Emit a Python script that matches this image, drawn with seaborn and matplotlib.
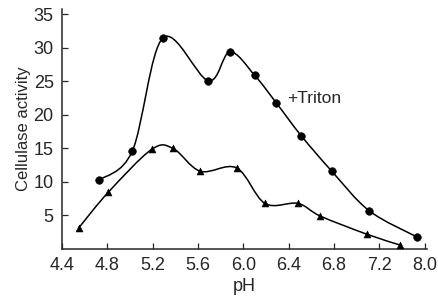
import numpy as np
import pandas as pd
import matplotlib
matplotlib.use("Agg")
import matplotlib.pyplot as plt
from matplotlib.path import Path
from matplotlib.patches import PathPatch
import seaborn as sns

# data
ph_triton = [4.73, 5.02, 5.29, 5.69, 5.88, 6.10, 6.29, 6.51, 6.78, 7.11, 7.53]
act_triton = [10.3, 14.6, 31.5, 25.1, 29.4, 25.9, 21.8, 16.9, 11.6, 5.7, 1.8]

ph_plain = [4.55, 4.81, 5.19, 5.38, 5.62, 5.94, 6.19, 6.48, 6.68, 7.09, 7.38]
act_plain = [3.2, 8.5, 14.85, 15.0, 11.6, 12.1, 6.8, 6.8, 4.9, 2.2, 0.6]

xtick_pos = [4.4, 4.8, 5.2, 5.6, 6.0, 6.4, 6.8, 7.2, 7.6]
xtick_lab = ["4.4", "4.8", "5.2", "5.6", "6.0", "6.4", "6.8", "7.2", "8.0"]
yticks = [5, 10, 15, 20, 25, 30, 35]

df_t = pd.DataFrame({"pH": ph_triton, "act": act_triton})
df_p = pd.DataFrame({"pH": ph_plain, "act": act_plain})


def smooth_path(x, y):
    # catmull-rom through the points, as cubic bezier segments
    p = np.column_stack([x, y])
    ext = np.vstack([p[0], p, p[-1]])
    verts = [p[0]]
    codes = [Path.MOVETO]
    for i in range(1, len(ext) - 2):
        c1 = ext[i] + (ext[i + 1] - ext[i - 1]) / 6
        c2 = ext[i + 1] - (ext[i + 2] - ext[i]) / 6
        verts += [c1, c2, ext[i + 1]]
        codes += [Path.CURVE4] * 3
    return Path(verts, codes)


sns.set_style("ticks")
plt.rcParams["font.family"] = ["Liberation Sans", "DejaVu Sans"]

fig, ax = plt.subplots(figsize=(4.38, 3.02), dpi=100)
fig.subplots_adjust(left=0.1416, right=0.975, bottom=0.1755, top=0.97)

for d in (df_t, df_p):
    ax.add_patch(PathPatch(smooth_path(d["pH"].values, d["act"].values),
                           facecolor="none", edgecolor="black", lw=1.1))

sns.scatterplot(data=df_t, x="pH", y="act", marker="o", s=30, color="black",
                edgecolor="black", ax=ax, zorder=3)
sns.scatterplot(data=df_p, x="pH", y="act", marker="^", s=25, color="black",
                edgecolor="black", ax=ax, zorder=3)

ax.text(6.39, 22.5, "+Triton", fontsize=12.5, va="center", ha="left")

ax.set_xlim(4.4, 7.62)
ax.set_ylim(0, 35.8)
ax.set_xticks(xtick_pos)
ax.set_xticklabels(xtick_lab)
ax.set_yticks(yticks)
ax.tick_params(direction="in", length=4, width=0.9, labelsize=13, pad=6)
ax.set_xlabel("pH", fontsize=13, labelpad=3)
ax.set_ylabel("Cellulase activity", fontsize=12, labelpad=2)
for s in ("left", "bottom"):
    ax.spines[s].set_linewidth(1.1)
sns.despine(ax=ax)

fig.savefig("out.png", dpi=100)
